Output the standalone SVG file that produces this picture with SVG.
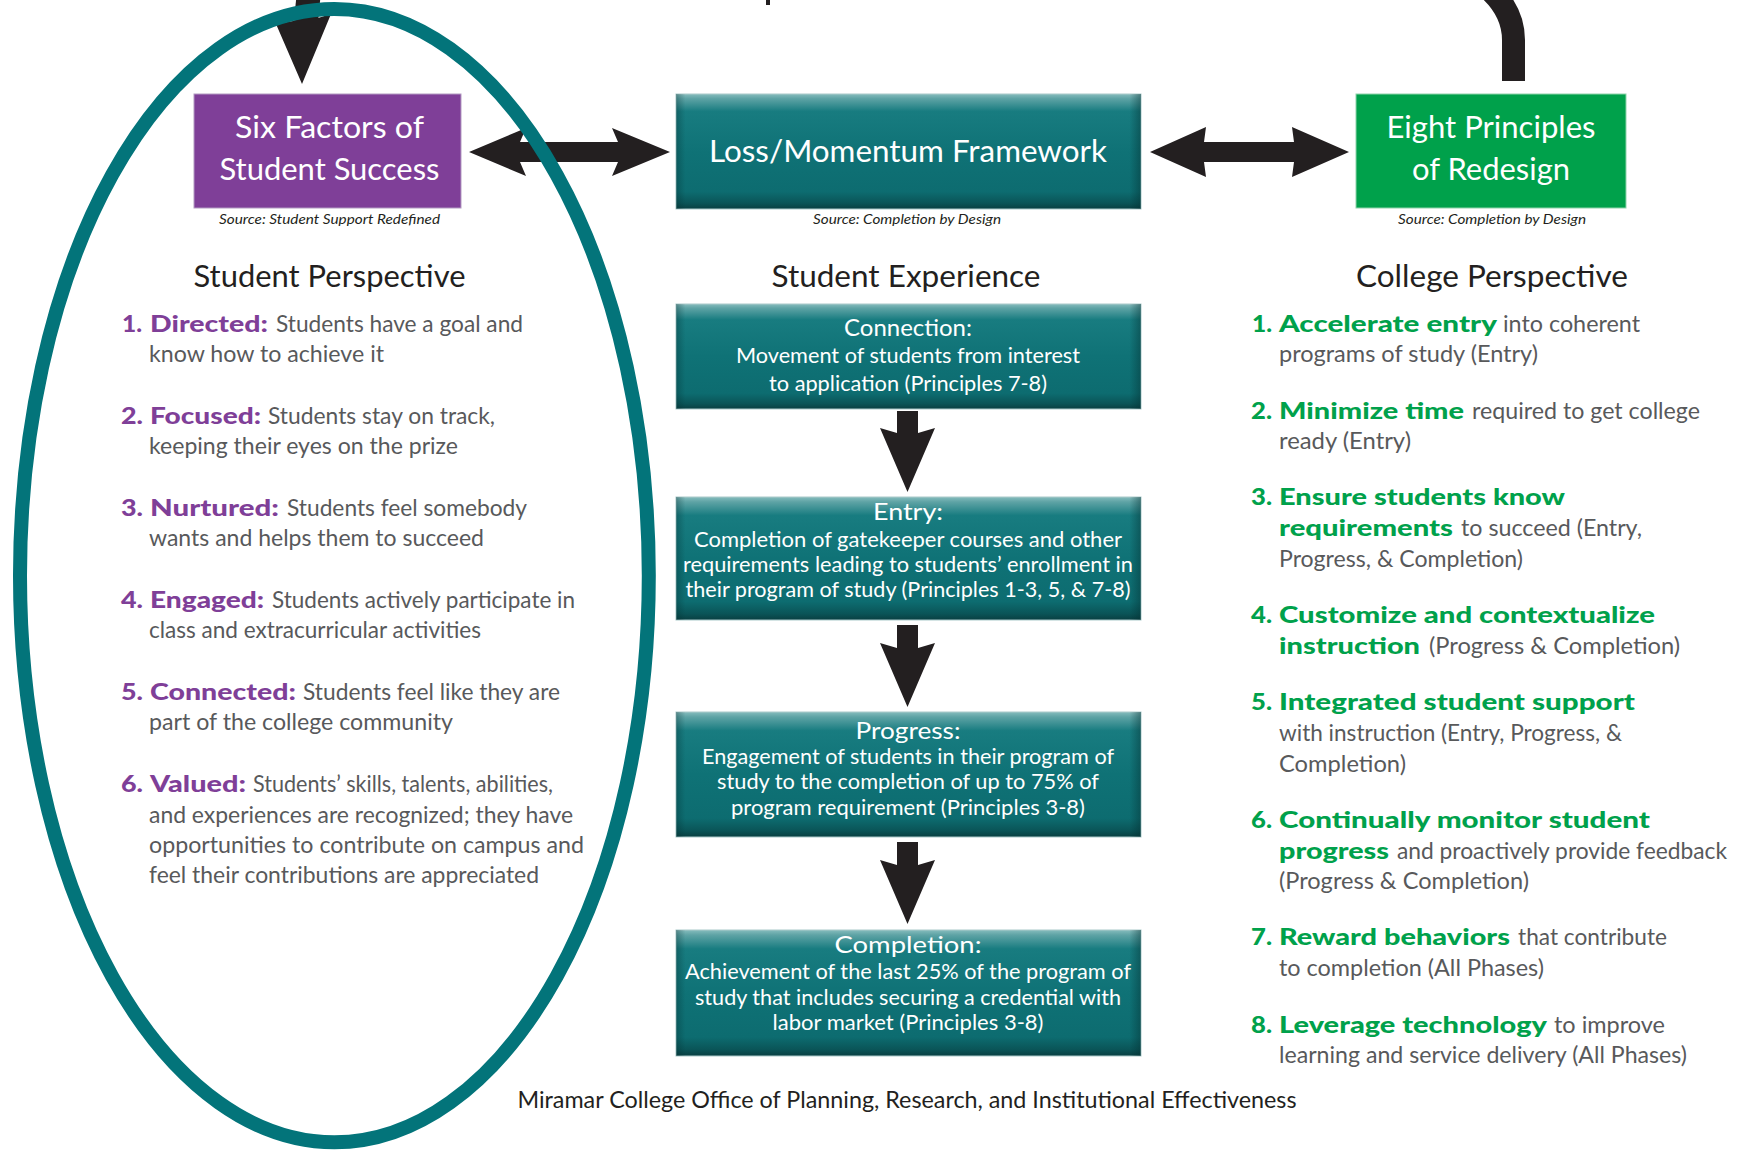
<svg xmlns="http://www.w3.org/2000/svg" width="1739" height="1151" viewBox="0 0 1739 1151">
  <defs>
    <style>
      text { font-family: Lato, "Open Sans", "Liberation Sans", sans-serif; }
      .b { font-size: 23px; fill: #58595b; }
      .lp { font-size: 23px; font-weight: 900; fill: #7f3f98; }
      .lg { font-size: 23px; font-weight: 900; fill: #00a14b; }
      .h { font-size: 30px; fill: #231f20; text-anchor: middle; }
      .bt { font-size: 31px; fill: #ffffff; text-anchor: middle; }
      .st { font-size: 24px; fill: #ffffff; text-anchor: middle; }
      .sb { font-size: 21px; fill: #ffffff; text-anchor: middle; }
      .src { font-size: 14px; font-style: italic; fill: #231f20; text-anchor: middle; }
      .ft { font-size: 23px; fill: #231f20; text-anchor: middle; }
      .arrow { fill: #231f20; }
      .tealbox { fill: url(#tealV); stroke: #a9c9ca; stroke-width: 1; }
      .tealside { fill: url(#tealH); }
    </style>
    <linearGradient id="tealV" x1="0" y1="0" x2="0" y2="1">
      <stop offset="0" stop-color="#86bcbd"/>
      <stop offset="0.04" stop-color="#5ea3a5"/>
      <stop offset="0.15" stop-color="#187c80"/>
      <stop offset="0.5" stop-color="#0f7276"/>
      <stop offset="0.85" stop-color="#0d6c70"/>
      <stop offset="0.95" stop-color="#0a5457"/>
      <stop offset="1" stop-color="#093f41"/>
    </linearGradient>
    <linearGradient id="tealH" x1="0" y1="0" x2="1" y2="0">
      <stop offset="0" stop-color="#032f31" stop-opacity="0.35"/>
      <stop offset="0.02" stop-color="#032f31" stop-opacity="0"/>
      <stop offset="0.975" stop-color="#032f31" stop-opacity="0"/>
      <stop offset="1" stop-color="#032f31" stop-opacity="0.45"/>
    </linearGradient>
  </defs>

  <rect x="0" y="0" width="1739" height="1151" fill="#ffffff"/>

  <!-- descender of a heading cut off at the top edge -->
  <rect x="766" y="0" width="4" height="5" fill="#231f20"/>

  <!-- connectors -->
  <g id="connectors">
    <!-- feedback loop entering from above, into Six Factors -->
    <path d="M1513.5,81 V40 Q1513.5,12 1490,-10" fill="none" stroke="#231f20" stroke-width="23"/>
    <path d="M306,22 L310,-20" fill="none" stroke="#231f20" stroke-width="24"/>
    <polygon class="arrow" points="276,24 293,21 318,18 331,14 302,84"/>
    <!-- Six Factors <-> Loss/Momentum -->
    <polygon class="arrow" points="469,152 526,128 520,142 618,142 612,128 670,152 612,176 618,162 520,162 526,176"/>
    <!-- Loss/Momentum <-> Eight Principles -->
    <polygon class="arrow" points="1150,152 1206,127 1204,142 1294,142 1292,127 1349,152 1292,177 1294,162 1204,162 1206,177"/>
    <!-- stage arrows -->
    <polygon class="arrow" points="897,411 918,411 918,433 935,428 907.5,492 880,428 897,433"/>
    <polygon class="arrow" points="897,625 918,625 918,648 935,643 907.5,707 880,643 897,648"/>
    <polygon class="arrow" points="897,842 918,842 918,865 935,860 907.5,924 880,860 897,865"/>
  </g>

  <!-- top row nodes -->
  <g id="node-six-factors">
    <rect x="194" y="94" width="267" height="114" fill="#7f3f98" stroke="#b39bc2" stroke-width="1"/>
    <text class="bt" x="329.5" y="138" textLength="189" lengthAdjust="spacingAndGlyphs">Six Factors of</text>
    <text class="bt" x="329.5" y="180" textLength="220" lengthAdjust="spacingAndGlyphs">Student Success</text>
    <text class="src" x="329.5" y="224" textLength="221" lengthAdjust="spacingAndGlyphs">Source: Student Support Redefined</text>
  </g>

  <g id="node-loss-momentum">
    <rect class="tealbox" x="676" y="94" width="465" height="115"/>
    <rect class="tealside" x="676" y="94" width="465" height="115"/>
    <text class="bt" x="908" y="162" textLength="398" lengthAdjust="spacingAndGlyphs">Loss/Momentum Framework</text>
    <text class="src" x="907" y="224" textLength="188" lengthAdjust="spacingAndGlyphs">Source: Completion by Design</text>
  </g>

  <g id="node-eight-principles">
    <rect x="1356" y="94" width="270" height="114" fill="#00a14b" stroke="#8fd3ac" stroke-width="1"/>
    <text class="bt" x="1491" y="138" textLength="209" lengthAdjust="spacingAndGlyphs">Eight Principles</text>
    <text class="bt" x="1491" y="180" textLength="158" lengthAdjust="spacingAndGlyphs">of Redesign</text>
    <text class="src" x="1492" y="224" textLength="188" lengthAdjust="spacingAndGlyphs">Source: Completion by Design</text>
  </g>

  <!-- column headings -->
  <g id="headings">
    <text class="h" x="329.5" y="287" textLength="272" lengthAdjust="spacingAndGlyphs">Student Perspective</text>
    <text class="h" x="906" y="287" textLength="269" lengthAdjust="spacingAndGlyphs">Student Experience</text>
    <text class="h" x="1492" y="287" textLength="272" lengthAdjust="spacingAndGlyphs">College Perspective</text>
  </g>

  <!-- student perspective list -->
  <g id="student-perspective">
    <text class="lp" x="122" y="332" textLength="20" lengthAdjust="spacingAndGlyphs">1.</text>
    <text class="lp" x="150" y="332" textLength="118" lengthAdjust="spacingAndGlyphs">Directed:</text>
    <text class="b" x="276" y="332" textLength="247" lengthAdjust="spacingAndGlyphs">Students have a goal and</text>
    <text class="b" x="149" y="362" textLength="235" lengthAdjust="spacingAndGlyphs">know how to achieve it</text>

    <text class="lp" x="121" y="424" textLength="22" lengthAdjust="spacingAndGlyphs">2.</text>
    <text class="lp" x="150" y="424" textLength="111" lengthAdjust="spacingAndGlyphs">Focused:</text>
    <text class="b" x="268" y="424" textLength="227" lengthAdjust="spacingAndGlyphs">Students stay on track,</text>
    <text class="b" x="149" y="454" textLength="309" lengthAdjust="spacingAndGlyphs">keeping their eyes on the prize</text>

    <text class="lp" x="121" y="516" textLength="22" lengthAdjust="spacingAndGlyphs">3.</text>
    <text class="lp" x="150" y="516" textLength="129" lengthAdjust="spacingAndGlyphs">Nurtured:</text>
    <text class="b" x="287" y="516" textLength="240" lengthAdjust="spacingAndGlyphs">Students feel somebody</text>
    <text class="b" x="149" y="546" textLength="335" lengthAdjust="spacingAndGlyphs">wants and helps them to succeed</text>

    <text class="lp" x="121" y="608" textLength="22" lengthAdjust="spacingAndGlyphs">4.</text>
    <text class="lp" x="150" y="608" textLength="114" lengthAdjust="spacingAndGlyphs">Engaged:</text>
    <text class="b" x="272" y="608" textLength="303" lengthAdjust="spacingAndGlyphs">Students actively participate in</text>
    <text class="b" x="149" y="638" textLength="332" lengthAdjust="spacingAndGlyphs">class and extracurricular activities</text>

    <text class="lp" x="121" y="700" textLength="22" lengthAdjust="spacingAndGlyphs">5.</text>
    <text class="lp" x="150" y="700" textLength="146" lengthAdjust="spacingAndGlyphs">Connected:</text>
    <text class="b" x="303" y="700" textLength="257" lengthAdjust="spacingAndGlyphs">Students feel like they are</text>
    <text class="b" x="149" y="730" textLength="304" lengthAdjust="spacingAndGlyphs">part of the college community</text>

    <text class="lp" x="121" y="792" textLength="22" lengthAdjust="spacingAndGlyphs">6.</text>
    <text class="lp" x="150" y="792" textLength="96" lengthAdjust="spacingAndGlyphs">Valued:</text>
    <text class="b" x="253" y="792" textLength="300" lengthAdjust="spacingAndGlyphs">Students’ skills, talents, abilities,</text>
    <text class="b" x="149" y="823" textLength="424" lengthAdjust="spacingAndGlyphs">and experiences are recognized; they have</text>
    <text class="b" x="149" y="853" textLength="435" lengthAdjust="spacingAndGlyphs">opportunities to contribute on campus and</text>
    <text class="b" x="149" y="883" textLength="390" lengthAdjust="spacingAndGlyphs">feel their contributions are appreciated</text>
  </g>

  <!-- student experience stages -->
  <g id="node-connection">
    <rect class="tealbox" x="676" y="304" width="465" height="105"/>
    <rect class="tealside" x="676" y="304" width="465" height="105"/>
    <text class="st" x="908" y="336" textLength="128" lengthAdjust="spacingAndGlyphs">Connection:</text>
    <text class="sb" x="908" y="363" textLength="344" lengthAdjust="spacingAndGlyphs">Movement of students from interest</text>
    <text class="sb" x="908" y="391" textLength="278" lengthAdjust="spacingAndGlyphs">to application (Principles 7-8)</text>
  </g>

  <g id="node-entry">
    <rect class="tealbox" x="676" y="497" width="465" height="123"/>
    <rect class="tealside" x="676" y="497" width="465" height="123"/>
    <text class="st" x="908" y="520" textLength="70" lengthAdjust="spacingAndGlyphs">Entry:</text>
    <text class="sb" x="908" y="547" textLength="428" lengthAdjust="spacingAndGlyphs">Completion of gatekeeper courses and other</text>
    <text class="sb" x="908" y="572" textLength="450" lengthAdjust="spacingAndGlyphs">requirements leading to students’ enrollment in</text>
    <text class="sb" x="908" y="597" textLength="445" lengthAdjust="spacingAndGlyphs">their program of study (Principles 1-3, 5, &amp; 7-8)</text>
  </g>

  <g id="node-progress">
    <rect class="tealbox" x="676" y="712" width="465" height="125"/>
    <rect class="tealside" x="676" y="712" width="465" height="125"/>
    <text class="st" x="908" y="739" textLength="105" lengthAdjust="spacingAndGlyphs">Progress:</text>
    <text class="sb" x="908" y="764" textLength="412" lengthAdjust="spacingAndGlyphs">Engagement of students in their program of</text>
    <text class="sb" x="908" y="789" textLength="382" lengthAdjust="spacingAndGlyphs">study to the completion of up to 75% of</text>
    <text class="sb" x="908" y="815" textLength="354" lengthAdjust="spacingAndGlyphs">program requirement (Principles 3-8)</text>
  </g>

  <g id="node-completion">
    <rect class="tealbox" x="676" y="930" width="465" height="126"/>
    <rect class="tealside" x="676" y="930" width="465" height="126"/>
    <text class="st" x="908" y="953" textLength="147" lengthAdjust="spacingAndGlyphs">Completion:</text>
    <text class="sb" x="908" y="979" textLength="446" lengthAdjust="spacingAndGlyphs">Achievement of the last 25% of the program of</text>
    <text class="sb" x="908" y="1005" textLength="426" lengthAdjust="spacingAndGlyphs">study that includes securing a credential with</text>
    <text class="sb" x="908" y="1030" textLength="271" lengthAdjust="spacingAndGlyphs">labor market (Principles 3-8)</text>
  </g>

  <!-- college perspective list -->
  <g id="college-perspective">
    <text class="lg" x="1252" y="332" textLength="20" lengthAdjust="spacingAndGlyphs">1.</text>
    <text class="lg" x="1279" y="332" textLength="218" lengthAdjust="spacingAndGlyphs">Accelerate entry</text>
    <text class="b" x="1503" y="332" textLength="137" lengthAdjust="spacingAndGlyphs">into coherent</text>
    <text class="b" x="1279" y="362" textLength="259" lengthAdjust="spacingAndGlyphs">programs of study (Entry)</text>

    <text class="lg" x="1251" y="419" textLength="21" lengthAdjust="spacingAndGlyphs">2.</text>
    <text class="lg" x="1279" y="419" textLength="185" lengthAdjust="spacingAndGlyphs">Minimize time</text>
    <text class="b" x="1472" y="419" textLength="228" lengthAdjust="spacingAndGlyphs">required to get college</text>
    <text class="b" x="1279" y="449" textLength="132" lengthAdjust="spacingAndGlyphs">ready (Entry)</text>

    <text class="lg" x="1251" y="505" textLength="21" lengthAdjust="spacingAndGlyphs">3.</text>
    <text class="lg" x="1279" y="505" textLength="286" lengthAdjust="spacingAndGlyphs">Ensure students know</text>
    <text class="lg" x="1279" y="536" textLength="174" lengthAdjust="spacingAndGlyphs">requirements</text>
    <text class="b" x="1461" y="536" textLength="181" lengthAdjust="spacingAndGlyphs">to succeed (Entry,</text>
    <text class="b" x="1279" y="567" textLength="244" lengthAdjust="spacingAndGlyphs">Progress, &amp; Completion)</text>

    <text class="lg" x="1251" y="623" textLength="21" lengthAdjust="spacingAndGlyphs">4.</text>
    <text class="lg" x="1279" y="623" textLength="376" lengthAdjust="spacingAndGlyphs">Customize and contextualize</text>
    <text class="lg" x="1279" y="654" textLength="141" lengthAdjust="spacingAndGlyphs">instruction</text>
    <text class="b" x="1429" y="654" textLength="251" lengthAdjust="spacingAndGlyphs">(Progress &amp; Completion)</text>

    <text class="lg" x="1251" y="710" textLength="21" lengthAdjust="spacingAndGlyphs">5.</text>
    <text class="lg" x="1279" y="710" textLength="356" lengthAdjust="spacingAndGlyphs">Integrated student support</text>
    <text class="b" x="1279" y="741" textLength="343" lengthAdjust="spacingAndGlyphs">with instruction (Entry, Progress, &amp;</text>
    <text class="b" x="1279" y="772" textLength="127" lengthAdjust="spacingAndGlyphs">Completion)</text>

    <text class="lg" x="1251" y="828" textLength="21" lengthAdjust="spacingAndGlyphs">6.</text>
    <text class="lg" x="1279" y="828" textLength="371" lengthAdjust="spacingAndGlyphs">Continually monitor student</text>
    <text class="lg" x="1279" y="859" textLength="110" lengthAdjust="spacingAndGlyphs">progress</text>
    <text class="b" x="1397" y="859" textLength="330" lengthAdjust="spacingAndGlyphs">and proactively provide feedback</text>
    <text class="b" x="1279" y="889" textLength="250" lengthAdjust="spacingAndGlyphs">(Progress &amp; Completion)</text>

    <text class="lg" x="1251" y="945" textLength="21" lengthAdjust="spacingAndGlyphs">7.</text>
    <text class="lg" x="1279" y="945" textLength="231" lengthAdjust="spacingAndGlyphs">Reward behaviors</text>
    <text class="b" x="1518" y="945" textLength="149" lengthAdjust="spacingAndGlyphs">that contribute</text>
    <text class="b" x="1279" y="976" textLength="265" lengthAdjust="spacingAndGlyphs">to completion (All Phases)</text>

    <text class="lg" x="1251" y="1033" textLength="21" lengthAdjust="spacingAndGlyphs">8.</text>
    <text class="lg" x="1279" y="1033" textLength="268" lengthAdjust="spacingAndGlyphs">Leverage technology</text>
    <text class="b" x="1554" y="1033" textLength="111" lengthAdjust="spacingAndGlyphs">to improve</text>
    <text class="b" x="1279" y="1063" textLength="408" lengthAdjust="spacingAndGlyphs">learning and service delivery (All Phases)</text>
  </g>

  <!-- footer credit -->
  <text class="ft" x="907" y="1108" textLength="779" lengthAdjust="spacingAndGlyphs">Miramar College Office of Planning, Research, and Institutional Effectiveness</text>

  <!-- highlight ring around the student perspective column -->
  <ellipse id="student-ring" cx="334.4" cy="575.6" rx="314.4" ry="566.7" fill="none" stroke="#03747a" stroke-width="14"/>
</svg>
